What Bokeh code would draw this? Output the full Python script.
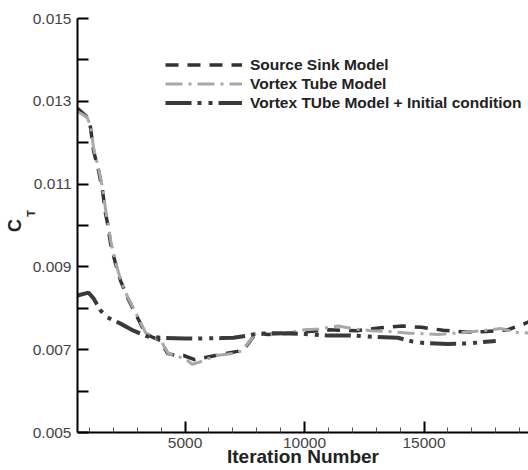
from bokeh.plotting import figure
from bokeh.models import (FixedTicker, PrintfTickFormatter, Legend, LegendItem,
                          Range1d, LinearAxis)
from bokeh.embed import file_html
from bokeh.resources import INLINE

# ---- data ----
iter_source = [500, 918, 1044, 1170, 1379, 1546, 1672, 1755, 1881, 2090, 2299,
               2592, 2927, 3345, 3680, 3973, 4266, 4600, 4935, 5400, 5646, 6274,
               7194, 7445, 7738, 7948, 8500, 9200, 10000, 11000, 12200, 13200,
               14100, 14900, 15800, 16800, 17600, 18500, 19160, 19400]
ct_source = [0.01283, 0.01261, 0.01237, 0.01181, 0.01133, 0.01085, 0.01029,
             0.01005, 0.00957, 0.00908, 0.00867, 0.00826, 0.00787, 0.00739,
             0.00729, 0.00722, 0.00691, 0.00686, 0.00686, 0.00676, 0.00679,
             0.00686, 0.00696, 0.00700, 0.00722, 0.00739, 0.00737, 0.00739,
             0.00743, 0.00748, 0.00746, 0.00753, 0.00757, 0.00754, 0.00747,
             0.00742, 0.00744, 0.00748, 0.00762, 0.00768]

iter_vortex = [500, 900, 1050, 1180, 1390, 1560, 1690, 1770, 1900, 2100, 2310,
               2600, 2940, 3350, 3700, 3990, 4280, 4620, 4950, 5300, 5600, 6300,
               7200, 7450, 7750, 7950, 8500, 9300, 10000, 10600, 11400, 12100,
               12800, 13500, 14400, 15600, 16800, 18200, 18900, 19400]
ct_vortex = [0.01275, 0.01262, 0.01240, 0.01185, 0.01135, 0.01088, 0.01032,
             0.01007, 0.00960, 0.00910, 0.00868, 0.00827, 0.00789, 0.00741,
             0.00730, 0.00722, 0.00692, 0.00684, 0.00680, 0.00665, 0.00670,
             0.00686, 0.00692, 0.00702, 0.00724, 0.00740, 0.00736, 0.00740,
             0.00748, 0.00750, 0.00757, 0.00750, 0.00746, 0.00744, 0.00740,
             0.00737, 0.00742, 0.00751, 0.00742, 0.00740]

iter_init = [500, 960, 1170, 1460, 1755, 2300, 2843, 3430, 3973, 5000, 5646,
             6500, 7027, 7613, 8031, 9000, 10000, 11000, 12000, 13000, 13900,
             14500, 15000, 16000, 16800, 17400, 18000]
ct_init = [0.00831, 0.00838, 0.00824, 0.00795, 0.00778, 0.00763, 0.00746,
           0.00732, 0.00729, 0.00727, 0.00727, 0.00728, 0.00729, 0.00734,
           0.00739, 0.00740, 0.00738, 0.00734, 0.00734, 0.00731, 0.00729,
           0.00720, 0.00716, 0.00714, 0.00715, 0.00718, 0.00721]

series_names = ["Source Sink Model", "Vortex Tube Model",
                "Vortex TUbe Model + Initial condition"]

x_major = [5000, 10000, 15000]
x_minor = [1000, 2000, 3000, 4000, 6000, 7000, 8000, 9000, 11000, 12000,
           13000, 14000, 16000, 17000, 18000, 19000]
y_major = [0.005, 0.007, 0.009, 0.011, 0.013, 0.015]
y_minor = [0.006, 0.008, 0.010, 0.012, 0.014]

x_title = "Iteration Number"
y_title_main = "C"
y_title_sub = "T"

FONT = "Liberation Sans"
NBSP = "\u00a0"

p = figure(width=528, height=470, output_backend="svg", toolbar_location=None,
           x_range=Range1d(500, 19370), y_range=Range1d(0.005, 0.015),
           min_border_left=77, min_border_right=0, min_border_top=18,
           min_border_bottom=38)
p.outline_line_color = None
p.xgrid.visible = False
p.ygrid.visible = False
p.background_fill_color = "white"
p.border_fill_color = "white"

r1 = p.line(iter_source, ct_source, line_color="#333333", line_width=3.5,
            line_dash="13 9")
r2 = p.line(iter_vortex, ct_vortex, line_color="#a8a8a8", line_width=3,
            line_dash="17 6 3 6")
r3 = p.line(iter_init, ct_init, line_color="#3a3a3a", line_width=4,
            line_dash="26 6 4 7 4 6")

# x axis
xa = p.xaxis[0]
xa.ticker = FixedTicker(ticks=x_major, minor_ticks=x_minor)
xa.major_tick_in = 11
xa.major_tick_out = 0
xa.minor_tick_in = 5
xa.minor_tick_out = 0
xa.axis_line_width = 2
xa.axis_line_color = "black"
xa.major_tick_line_width = 2
xa.minor_tick_line_width = 1
xa.minor_tick_line_color = "#555555"
xa.major_label_standoff = 5
xa.major_label_text_font = FONT
xa.major_label_text_font_size = "15.5px"
xa.major_label_text_color = "#444444"
xa.axis_label = x_title
xa.axis_label_standoff = -5
xa.axis_label_text_font = FONT
xa.axis_label_text_font_size = "19px"
xa.axis_label_text_font_style = "bold"
xa.axis_label_text_color = "#222222"

# y axis (carries the subscript "T" as its label)
ya = p.yaxis[0]
ya.ticker = FixedTicker(ticks=y_major, minor_ticks=y_minor)
ya.formatter = PrintfTickFormatter(format="%.3f")
ya.major_tick_in = 11
ya.major_tick_out = 0
ya.minor_tick_in = 11
ya.minor_tick_out = 0
ya.axis_line_width = 2
ya.axis_line_color = "black"
ya.major_tick_line_width = 2
ya.minor_tick_line_width = 2
ya.major_label_standoff = 6
ya.major_label_text_font = FONT
ya.major_label_text_font_size = "15.5px"
ya.major_label_text_color = "#444444"
ya.axis_label = NBSP * 8 + y_title_sub
ya.axis_label_standoff = -7
ya.axis_label_text_font = FONT
ya.axis_label_text_font_size = "11px"
ya.axis_label_text_font_style = "bold"
ya.axis_label_text_color = "#222222"

# outer, invisible axis carrying the main "C"
ca = LinearAxis(axis_label=y_title_main, axis_line_color=None,
                major_tick_line_color=None, minor_tick_line_color=None,
                major_label_text_font_size="0px", major_label_standoff=0,
                major_tick_in=0, major_tick_out=0, minor_tick_in=0,
                minor_tick_out=0, ticker=FixedTicker(ticks=[]),
                axis_label_standoff=-3, axis_label_text_font=FONT,
                axis_label_text_font_size="18px",
                axis_label_text_font_style="bold",
                axis_label_text_color="#222222")
p.add_layout(ca, "left")

legend = Legend(items=[LegendItem(label=series_names[0], renderers=[r1]),
                       LegendItem(label=series_names[1], renderers=[r2]),
                       LegendItem(label=series_names[2], renderers=[r3])],
                location=(88, 320), orientation="vertical")
legend.border_line_color = None
legend.background_fill_alpha = 0
legend.margin = 0
legend.padding = 0
legend.spacing = 0
legend.glyph_width = 77
legend.glyph_height = 19
legend.label_height = 19
legend.label_standoff = 8
legend.label_text_font = FONT
legend.label_text_font_size = "15.5px"
legend.label_text_font_style = "bold"
legend.label_text_color = "#222222"
p.add_layout(legend, "center")

open("out.html", "w").write(file_html(p, INLINE))
